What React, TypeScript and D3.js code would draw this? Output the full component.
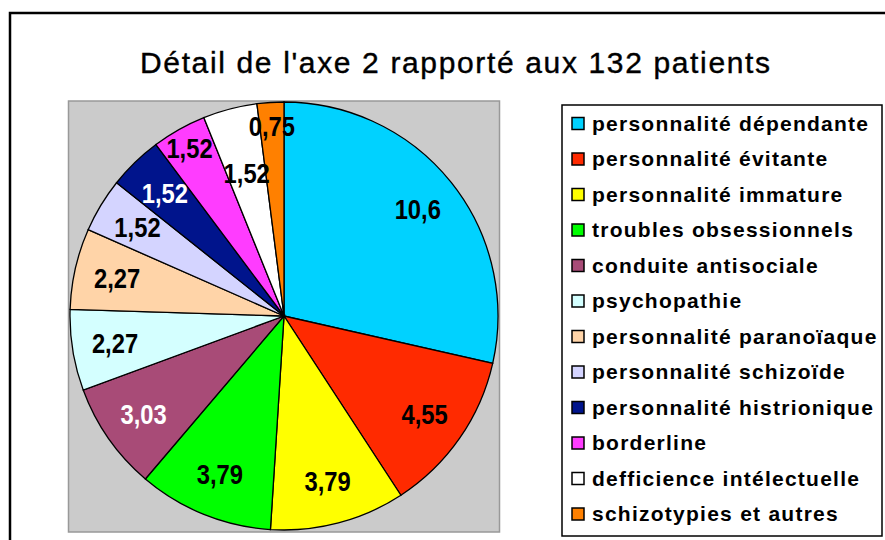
import React from "react";
import * as d3 from "d3";

// Catégories, valeurs (%) et couleurs
const categories = [
  "personnalité dépendante",
  "personnalité évitante",
  "personnalité immature",
  "troubles obsessionnels",
  "conduite antisociale",
  "psychopathie",
  "personnalité paranoïaque",
  "personnalité schizoïde",
  "personnalité histrionique",
  "borderline",
  "defficience intélectuelle",
  "schizotypies et autres",
];
const values = [10.6, 4.55, 3.79, 3.79, 3.03, 2.27, 2.27, 1.52, 1.52, 1.52, 1.52, 0.75];
const valueLabels = ["10,6", "4,55", "3,79", "3,79", "3,03", "2,27", "2,27", "1,52", "1,52", "1,52", "1,52", "0,75"];
const colors = [
  "#00D2FF", "#FF2A00", "#FFFF00", "#00FF00", "#A84B77", "#D4FFFF",
  "#FFD4A8", "#D4D4FF", "#00148C", "#FF3CFF", "#FFFFFF", "#FF8000",
];
const whiteText = ["conduite antisociale", "personnalité histrionique"];

const title = "Détail de l'axe 2 rapporté aux 132 patients";

export default function App() {
  const width = 885,
    height = 540;

  // Zone du graphique
  const plot = { x: 68.5, y: 101, w: 431, h: 431 };
  const cx = 284,
    cy = 316,
    radius = 214;

  const pie = d3
    .pie<number>()
    .value((d) => d)
    .sort(null);
  const arcs = pie(values);
  const arc = d3.arc<d3.PieArcDatum<number>>().innerRadius(0).outerRadius(radius);

  // Position des étiquettes : on essaie plusieurs rayons pour éviter les chevauchements
  const labelFont = 27;
  const squeeze = 0.88;
  const placed: { x: number; y: number; w: number; h: number }[] = [];
  const labelPos: [number, number][] = new Array(arcs.length);
  for (let i = arcs.length - 1; i >= 0; i--) {
    const a = arcs[i];
    const w = valueLabels[i].length * labelFont * 0.5 * squeeze + 2;
    const h = labelFont * 0.95;
    const tiny = a.endAngle - a.startAngle < 0.15;
    const radii = tiny ? [0.89, 0.8, 0.69] : [0.8, 0.9, 0.69];
    let best: [number, number] = [0, 0];
    for (const k of radii) {
      const p = d3.arc<d3.PieArcDatum<number>>().innerRadius(radius * k).outerRadius(radius * k).centroid(a);
      best = p;
      const hit = placed.some((q) => Math.abs(q.x - p[0]) < (q.w + w) / 2 && Math.abs(q.y - p[1]) < (q.h + h) / 2);
      if (!hit) break;
    }
    labelPos[i] = best;
    placed.push({ x: best[0], y: best[1], w, h });
  }

  // Légende
  const legend = { x: 562, y: 105, w: 320, h: 431 };
  const rowY = d3
    .scalePoint<string>()
    .domain(categories)
    .range([123.5, 514]);

  return (
    <div style={{ position: "absolute", left: 0, top: 0 }}>
      <svg width={width} height={height} style={{ display: "block", fontFamily: "'Liberation Sans', Arial, sans-serif" }}>
        <rect x={0} y={0} width={width} height={height} fill="#fff" />
        <rect x={10} y={13} width={width + 20} height={height + 20} fill="#fff" stroke="#000" strokeWidth={2.5} />

        <text x={455} y={73} textAnchor="middle" fontSize={30} textLength={630} lengthAdjust="spacing" stroke="#000" strokeWidth={0.4}>
          {title}
        </text>

        <rect x={plot.x} y={plot.y} width={plot.w} height={plot.h} fill="#CBCBCB" stroke="#999" strokeWidth={1.5} />

        <g transform={`translate(${cx},${cy})`}>
          {arcs.map((a, i) => (
            <path key={i} d={arc(a) || ""} fill={colors[i]} stroke="#000" strokeWidth={1.3} />
          ))}
          {arcs.map((a, i) => (
            <text
              key={"l" + i}
              transform={`translate(${labelPos[i][0]},${labelPos[i][1]}) scale(${squeeze},1)`}
              dy="0.36em"
              textAnchor="middle"
              fontSize={labelFont}
              fontWeight="bold"
              fill={whiteText.includes(categories[i]) ? "#fff" : "#000"}
            >
              {valueLabels[i]}
            </text>
          ))}
        </g>

        <rect x={legend.x} y={legend.y} width={legend.w} height={legend.h} fill="#fff" stroke="#000" strokeWidth={1.5} />
        {categories.map((c, i) => (
          <g key={c} transform={`translate(${legend.x + 10},${rowY(c)})`}>
            <rect x={0} y={-6} width={12} height={12} fill={colors[i]} stroke="#000" strokeWidth={1.5} />
            <text x={20} y={7} fontSize={21} fontWeight="bold" letterSpacing={1.25}>
              {c}
            </text>
          </g>
        ))}
      </svg>
    </div>
  );
}
